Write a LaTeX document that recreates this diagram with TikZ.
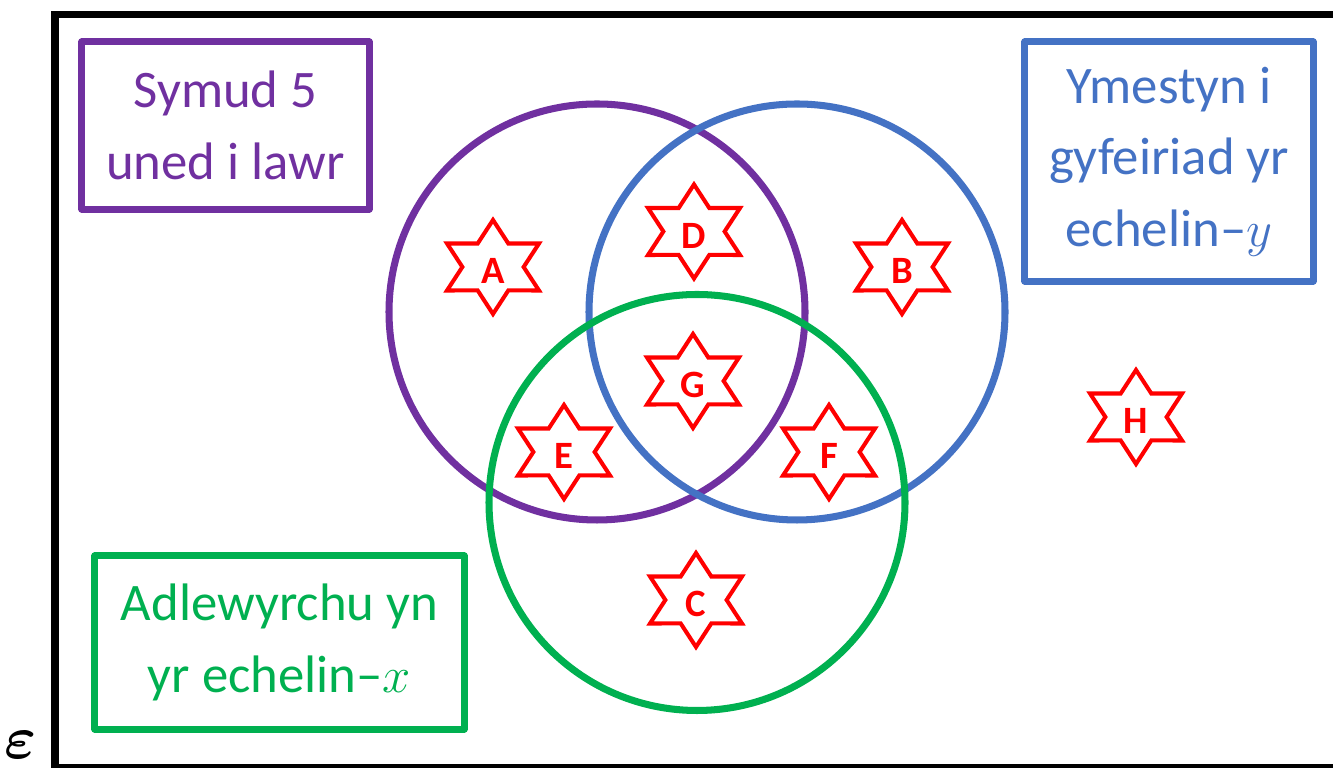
\documentclass[tikz,border=0pt]{standalone}
\usepackage{amsmath,amssymb}
\usepackage{fontspec}
\setmainfont{Carlito}
\usepackage{tikz}
\usetikzlibrary{positioning,calc}
\definecolor{vpurple}{RGB}{112,48,160}
\definecolor{vblue}{RGB}{68,114,196}
\definecolor{vgreen}{RGB}{0,176,80}
\definecolor{vred}{RGB}{255,0,0}

\begin{document}
\begin{tikzpicture}[x=0.01cm,y=-0.01cm,
  ring/.style={line width=2pt},
  rulebox/.style={draw=#1,text=#1,line width=2pt,line join=round,align=center,
    font=\fontsize{15}{20.3}\selectfont},
  hexline/.style={draw=vred,fill=white,line width=1.15pt,xscale=1.13},
  hexlbl/.style={text=vred,font=\bfseries\fontsize{11}{13}\selectfont,inner sep=0pt}]
  \useasboundingbox (0,0) rectangle (1333,768);
  \clip (0,0) rectangle (1333,768);
  \draw[line width=2pt] (55,14.5) rectangle (1360,767.5);
  \node[inner sep=0pt] (eps) at (21,745) {\fontsize{17}{20}\selectfont$\boldsymbol{\varepsilon}$};
  % the three sets
  \draw[ring,vpurple] (597,312) circle[radius=208];
  \draw[ring,vblue] (797,312) circle[radius=208];
  \draw[ring,vgreen] (697,502.5) circle[radius=208];
  \node[rulebox=vpurple,minimum width=2.87cm,minimum height=1.67cm] (symud) at (225.5,125.5) {Symud 5\\uned i lawr};
  \node[rulebox=vblue,minimum width=2.88cm,minimum height=2.39cm] (ymestyn) at (1169,161.5) {Ymestyn i\\gyfeiriad yr\\echelin--$y$};
  \node[rulebox=vgreen,minimum width=3.69cm,minimum height=1.73cm] (adlew) at (279.5,642.5) {Adlewyrchu yn\\yr echelin--$x$};
  % the shapes
  \foreach \n/\px/\py in {A/493/267,D/694/231.5,B/902/267,G/693/381,E/564/452,F/829/452,C/696/600,H/1136/417}{
    \draw[shift={(\px,\py)},hexline] (90:47) \foreach \a in {30,-30,-90,-150,-210,-270}{ -- ({\a+30}:27.1) -- (\a:47)} -- cycle;
    \node[hexlbl] (s\n) at (\px,\py+4) {\n};
  }
\end{tikzpicture}
\end{document}
